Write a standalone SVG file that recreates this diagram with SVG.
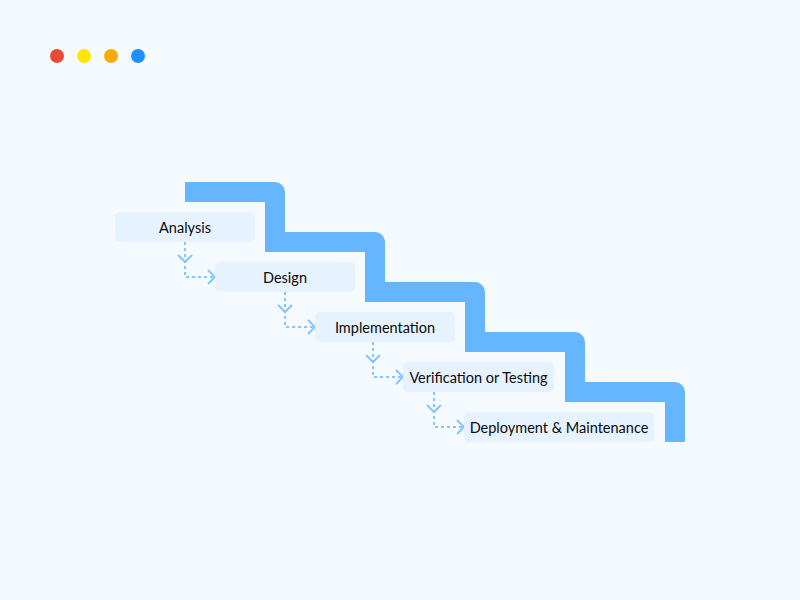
<svg xmlns="http://www.w3.org/2000/svg" width="800" height="600" viewBox="0 0 800 600">
<defs>
<style>
.box{fill:#E6F2FF;}
.lbl{font-family:"Lato","Open Sans",sans-serif;font-size:14.5px;fill:#0A0A0A;text-anchor:middle;dominant-baseline:central;}
.conn{fill:none;stroke:#85C6FF;stroke-width:2;stroke-dasharray:3 3;}
.chev{fill:none;stroke:#85C6FF;stroke-width:2;}
</style>
</defs>
<rect width="800" height="600" fill="#F5FAFF"/>
<g id="dots">
<circle cx="57" cy="56" r="7" fill="#E84A35"/>
<circle cx="84" cy="56" r="7" fill="#FFE600"/>
<circle cx="111" cy="56" r="7" fill="#FFAA00"/>
<circle cx="138" cy="56" r="7" fill="#1E90FF"/>
</g>
<g id="stairs">
<path d="M185,182 H275 A10,10 0 0 1 285,192 V232 H375 A10,10 0 0 1 385,242 V282 H475 A10,10 0 0 1 485,292 V332 H575 A10,10 0 0 1 585,342 V382 H675 A10,10 0 0 1 685,392 V442 H665 V402 H565 V352 H465 V302 H365 V252 H265 V202 H185 Z" fill="#66B5FF"/>
</g>
<g id="connectors">
<path class="conn" d="M185,242 V277 H213"/>
<path class="chev" d="M178,255 L185,262 L192,255 M208,270 L215,277 L208,284"/>
<path class="conn" d="M285,292 V327 H313"/>
<path class="chev" d="M278,305 L285,312 L292,305 M308,320 L315,327 L308,334"/>
<path class="conn" d="M373,342 V377 H401"/>
<path class="chev" d="M366,355 L373,362 L380,355 M396,370 L403,377 L396,384"/>
<path class="conn" d="M434,392 V427 H462"/>
<path class="chev" d="M427,405 L434,412 L441,405 M457,420 L464,427 L457,434"/>
</g>
<g id="analysis">
<rect class="box" x="115" y="212" width="140" height="30" rx="5"/>
<text class="lbl" x="185" y="227">Analysis</text>
</g>
<g id="design">
<rect class="box" x="215" y="262" width="140" height="30" rx="5"/>
<text class="lbl" x="285" y="277">Design</text>
</g>
<g id="implementation">
<rect class="box" x="315" y="312" width="140" height="30" rx="5"/>
<text class="lbl" x="385" y="327">Implementation</text>
</g>
<g id="verification">
<rect class="box" x="403" y="362" width="151" height="30" rx="5"/>
<text class="lbl" x="478.5" y="377">Verification or Testing</text>
</g>
<g id="deployment">
<rect class="box" x="464" y="412" width="190" height="30" rx="5"/>
<text class="lbl" x="559" y="427">Deployment &amp; Maintenance</text>
</g>
</svg>
